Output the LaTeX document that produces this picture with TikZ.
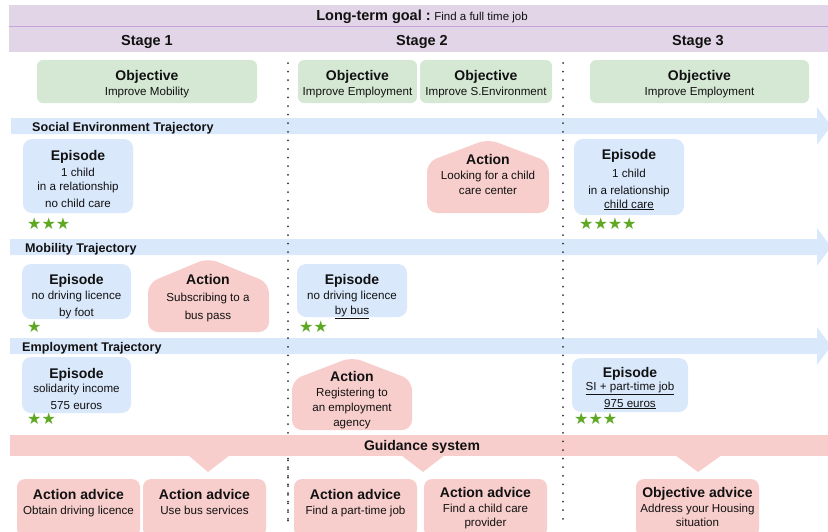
\documentclass[tikz,border=0pt]{standalone}
\usepackage{fontspec}
\setmainfont{Liberation Sans}
\newfontfamily\starfont{DejaVu Sans}
\definecolor{hdr}{HTML}{E1D5E7}
\definecolor{hdrline}{HTML}{C8A2DC}
\definecolor{objc}{HTML}{D5E8D4}
\definecolor{epic}{HTML}{DAE8FC}
\definecolor{actc}{HTML}{F8CECC}
\definecolor{starc}{HTML}{5EA824}
\definecolor{dotc}{HTML}{333333}
\definecolor{txt}{HTML}{111111}
\begin{document}
\begin{tikzpicture}[x=1pt,y=-1pt,
  every node/.style={inner sep=0pt, text=txt},
  ttl/.style={anchor=base, font=\fontsize{14}{16}\selectfont\bfseries},
  sub/.style={anchor=base, font=\fontsize{11.6}{13}\selectfont},
  trajlbl/.style={anchor=base west, font=\fontsize{12.6}{14}\selectfont\bfseries},
  stars/.style={anchor=base west, text=starc, font=\fontsize{16}{18}\starfont},
  objbox/.style={fill=objc, rounded corners=6pt, minimum height=43pt},
  epibox/.style={fill=epic, rounded corners=9pt},
  advbox/.style={fill=actc, rounded corners=8pt},
  housef/.style={fill=actc, rounded corners=10pt},
  trajf/.style={fill=epic},
  dotline/.style={draw=dotc, line width=2pt, line cap=round, dash pattern=on 0pt off 8.6pt}
]
\useasboundingbox (0,0) rectangle (828,531);

% header
\fill[hdr] (9,5) rectangle (830,52);
\draw[hdrline, line width=0.8pt] (9,26) -- (830,26);
\node[anchor=base] (goal) at (422,20) {{\fontsize{14.5}{16}\selectfont\bfseries Long-term goal :} {\fontsize{11.5}{13}\selectfont Find a full time job}};
\node[ttl, font=\fontsize{14.5}{16}\selectfont\bfseries] (st1) at (147,45) {Stage 1};
\node[ttl, font=\fontsize{14.5}{16}\selectfont\bfseries] (st2) at (422,45) {Stage 2};
\node[ttl, font=\fontsize{14.5}{16}\selectfont\bfseries] (st3) at (698,45) {Stage 3};

% objectives
\node[objbox, minimum width=220pt] (o1) at (147,81.5) {};
\node[objbox, minimum width=119pt] (o2a) at (357.5,81.5) {};
\node[objbox, minimum width=132pt] (o2b) at (486,81.5) {};
\node[objbox, minimum width=219pt] (o3) at (699.5,81.5) {};
\node[ttl] (o1t) at (147,80) {Objective};
\node[sub] (o1s) at (147,95) {Improve Mobility};
\node[ttl] (o2at) at (357.5,80) {Objective};
\node[sub] (o2as) at (357.5,95) {Improve Employment};
\node[ttl] (o2bt) at (486,80) {Objective};
\node[sub] (o2bs) at (486,95) {Improve S.Environment};
\node[ttl] (o3t) at (699.5,80) {Objective};
\node[sub] (o3s) at (699.5,95) {Improve Employment};

% trajectory arrows
\fill[trajf] (11,118) -- (817,118) -- (817,107) -- (831,126) -- (817,145) -- (817,134) -- (11,134) -- cycle;
\fill[trajf] (10,239) -- (817,239) -- (817,228) -- (831,247) -- (817,266) -- (817,255) -- (10,255) -- cycle;
\fill[trajf] (10,338) -- (817,338) -- (817,327) -- (831,346) -- (817,365) -- (817,354) -- (10,354) -- cycle;
\node[trajlbl] (tS) at (32,131.5) {Social Environment Trajectory};
\node[trajlbl] (tM) at (25,252.5) {Mobility Trajectory};
\node[trajlbl] (tE) at (22,351.5) {Employment Trajectory};

% social row
\node[epibox, minimum width=110pt, minimum height=74pt] (eS1) at (78,176) {};
\node[ttl] (eS1t) at (78,160) {Episode};
\node[sub] (eS1a) at (78,176) {1 child};
\node[sub] (eS1b) at (78,190) {in a relationship};
\node[sub] (eS1c) at (78,207) {no child care};
\node[stars] (sS1) at (27,229.5) {★★★};

\fill[housef] (427,213) -- (427,162) -- (488,139) -- (549,162) -- (549,213) -- cycle;
\node[ttl] (aS2t) at (488,164) {Action};
\node[sub] (aS2a) at (488,179) {Looking for a child};
\node[sub] (aS2b) at (488,194) {care center};

\node[epibox, minimum width=110pt, minimum height=76pt] (eS3) at (629,177) {};
\node[ttl] (eS3t) at (629,159) {Episode};
\node[sub] (eS3a) at (629,177) {1 child};
\node[sub] (eS3b) at (629,194) {in a relationship};
\node[sub] (eS3c) at (629,208) {\underline{child care}};
\node[stars] (sS3) at (579,229.5) {★★★★};

% mobility row
\node[epibox, minimum width=109pt, minimum height=55pt] (eM1) at (76.5,291.5) {};
\node[ttl] (eM1t) at (76.5,284) {Episode};
\node[sub] (eM1a) at (76.5,299) {no driving licence};
\node[sub] (eM1b) at (76.5,316) {by foot};
\node[stars] (sM1) at (27,332.5) {★};

\fill[housef] (148,332) -- (148,283) -- (208,258) -- (269,283) -- (269,332) -- cycle;
\node[ttl] (aM1t) at (208,284) {Action};
\node[sub] (aM1a) at (208,301) {Subscribing to a};
\node[sub] (aM1b) at (208,319) {bus pass};

\node[epibox, minimum width=110pt, minimum height=53pt] (eM2) at (352,290.5) {};
\node[ttl] (eM2t) at (352,284) {Episode};
\node[sub] (eM2a) at (352,299) {no driving licence};
\node[sub] (eM2b) at (352,314) {\underline{by bus}};
\node[stars] (sM2) at (299,332.5) {★★};

% employment row
\node[epibox, minimum width=109pt, minimum height=56pt] (eE1) at (76.5,385) {};
\node[ttl] (eE1t) at (76.5,378) {Episode};
\node[sub] (eE1a) at (76.5,392) {solidarity income};
\node[sub] (eE1b) at (76.5,409) {575 euros};
\node[stars] (sE1) at (27,424.5) {★★};

\fill[housef] (292,430) -- (292,380) -- (352,357) -- (412,380) -- (412,430) -- cycle;
\node[ttl] (aE2t) at (352,381) {Action};
\node[sub] (aE2a) at (352,396) {Registering to};
\node[sub] (aE2b) at (352,411) {an employment};
\node[sub] (aE2c) at (352,426) {agency};

\node[epibox, minimum width=116pt, minimum height=54pt] (eE3) at (630,385) {};
\node[ttl] (eE3t) at (630,377) {Episode};
\node[sub] (eE3a) at (630,390) {\underline{SI + part-time job}};
\node[sub] (eE3b) at (630,407) {\underline{975 euros}};
\node[stars] (sE3) at (574,424.5) {★★★};

% left dotted line (behind guidance band)
\draw[dotline] (288,63) -- (288,524);

% guidance band
\fill[actc] (10,435) rectangle (830,456);
\fill[actc] (188,455) -- (230,455) -- (208,472) -- cycle;
\fill[actc] (401,455) -- (445,455) -- (423,472) -- cycle;
\fill[actc] (675,455) -- (722,455) -- (698,472) -- cycle;
\node[ttl] (guid) at (422,450) {Guidance system};

% right dotted line
\draw[dotline] (563,63) -- (563,522);
% left dotted line below band
\draw[dotline] (288,460.4) -- (288,524);

% advice boxes
\node[advbox, minimum width=123pt, minimum height=58pt] (b1) at (78.5,508) {};
\node[advbox, minimum width=123pt, minimum height=58pt] (b2) at (204.5,508) {};
\node[advbox, minimum width=123pt, minimum height=58pt] (b3) at (355.5,508) {};
\node[advbox, minimum width=123pt, minimum height=58pt] (b4) at (485.5,508) {};
\node[advbox, minimum width=123pt, minimum height=58pt] (b5) at (697.5,508) {};
\node[ttl] (b1t) at (78.5,499) {Action advice};
\node[sub] (b1s) at (78.5,514) {Obtain driving licence};
\node[ttl] (b2t) at (204.5,499) {Action advice};
\node[sub] (b2s) at (204.5,514) {Use bus services};
\node[ttl] (b3t) at (355.5,499) {Action advice};
\node[sub] (b3s) at (355.5,514) {Find a part-time job};
\node[ttl] (b4t) at (485.5,497) {Action advice};
\node[sub] (b4a) at (485.5,512) {Find a child care};
\node[sub] (b4b) at (485.5,526) {provider};
\node[ttl] (b5t) at (697.5,497) {Objective advice};
\node[sub] (b5a) at (697.5,512) {Address your Housing};
\node[sub] (b5b) at (697.5,526) {situation};
\end{tikzpicture}
\end{document}
